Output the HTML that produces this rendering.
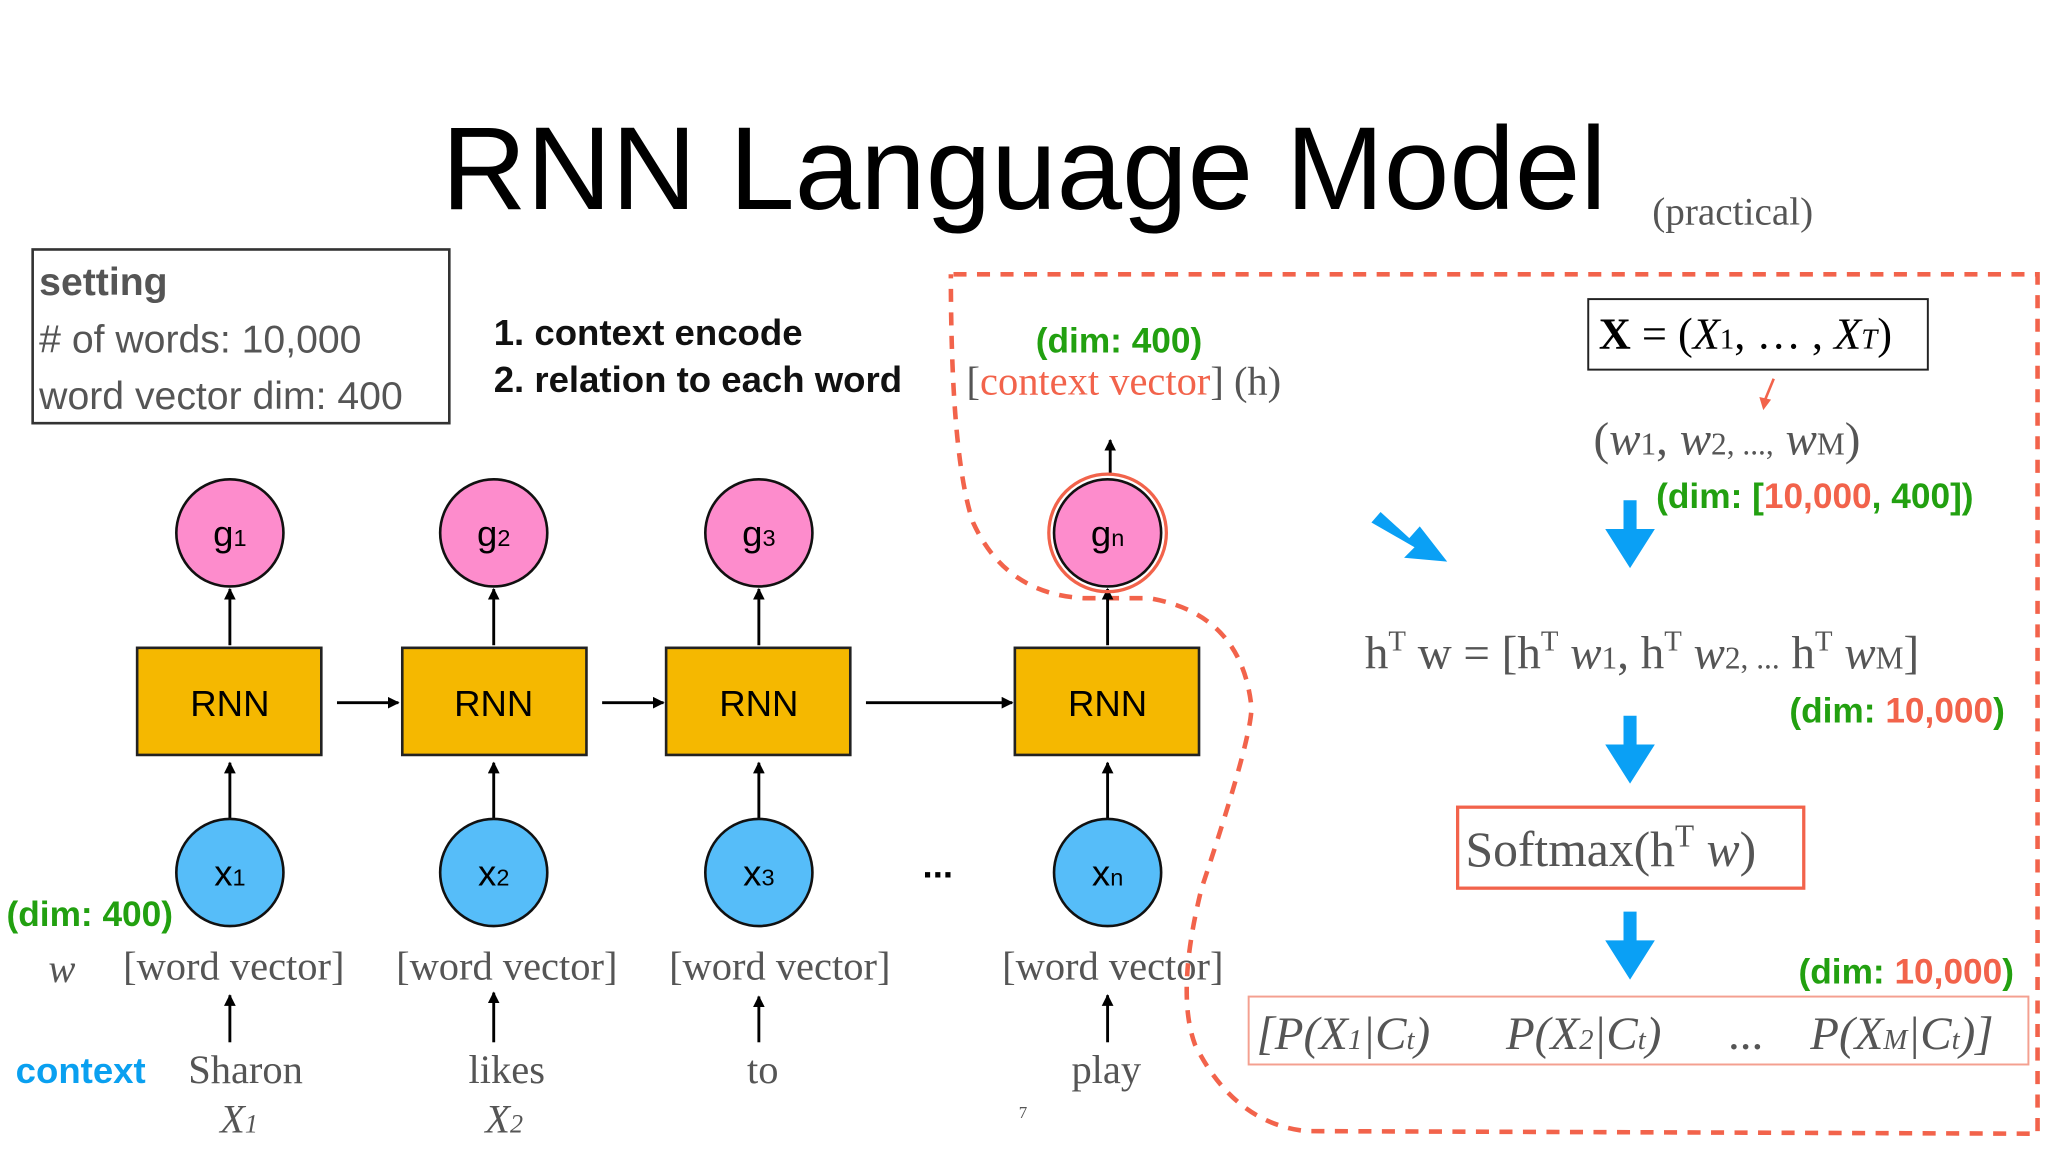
<!DOCTYPE html>
<html><head><meta charset="utf-8"><style>
html,body{margin:0;padding:0;background:#fff;}
svg{display:block;}
.s{font-family:"Liberation Serif",serif;fill:#555;}
.a{font-family:"Liberation Sans",sans-serif;}
.g{fill:#22a010;font-weight:bold;font-family:"Liberation Sans",sans-serif;}
.r{fill:#f2634b;}
</style></head><body>
<svg width="2048" height="1152" viewBox="0 0 1568 882" xmlns="http://www.w3.org/2000/svg">
<defs>
<marker id="ah" viewBox="0 0 10 10" refX="9" refY="5" markerWidth="9" markerHeight="9" markerUnits="userSpaceOnUse" orient="auto"><path d="M0,0L10,5L0,10z" fill="#000"/></marker>
</defs>
<text x="784" y="160" text-anchor="middle" class="a" font-size="90" textLength="892" lengthAdjust="spacingAndGlyphs" fill="#000">RNN Language Model</text>
<text x="1265" y="172" class="s" font-size="30">(practical)</text>

<rect x="25" y="191" width="319" height="133" fill="none" stroke="#333" stroke-width="2"/>
<text x="30" y="226" class="a" font-size="30" font-weight="bold" fill="#555">setting</text>
<text x="30" y="270" class="a" font-size="30" fill="#555"># of words: 10,000</text>
<text x="30" y="313" class="a" font-size="30" fill="#555">word vector dim: 400</text>

<text x="378" y="264" class="a" font-size="28" font-weight="bold" fill="#111">1.  context encode</text>
<text x="378" y="300" class="a" font-size="28" font-weight="bold" fill="#111">2.  relation to each word</text>

<text x="793" y="270" class="g" font-size="27">(dim: 400)</text>
<text x="740" y="302" class="s" font-size="31">[<tspan class="r">context vector</tspan>] (h)</text>

<path d="M730,210 L1560,210 L1560,868 L1000,866 Q945,860 915,800 Q900,760 920,680 Q960,560 958,540 Q950,470 880,458 L830,458 Q770,455 745,400 Q728,350 728,210" fill="none" stroke="#f2634b" stroke-width="3.5" stroke-dasharray="10,8"/>

<g stroke="#000" stroke-width="2.2" fill="none" marker-end="url(#ah)">
<line x1="258" y1="538" x2="305" y2="538"/>
<line x1="461" y1="538" x2="508" y2="538"/>
<line x1="663" y1="538" x2="775" y2="538"/>
<line x1="176" y1="494" x2="176" y2="451"/>
<line x1="378" y1="494" x2="378" y2="451"/>
<line x1="581" y1="494" x2="581" y2="451"/>
<line x1="848" y1="494" x2="848" y2="451"/>
<line x1="176" y1="627" x2="176" y2="584"/>
<line x1="378" y1="627" x2="378" y2="584"/>
<line x1="581" y1="627" x2="581" y2="584"/>
<line x1="848" y1="627" x2="848" y2="584"/>
<line x1="850" y1="364" x2="850" y2="337"/>
<line x1="176" y1="798" x2="176" y2="762"/>
<line x1="378" y1="798" x2="378" y2="760"/>
<line x1="581" y1="798" x2="581" y2="763"/>
<line x1="848" y1="798" x2="848" y2="762"/>
</g>

<g stroke="#111" stroke-width="2" fill="#fd8ccc">
<circle cx="176" cy="408" r="41"/><circle cx="378" cy="408" r="41"/><circle cx="581" cy="408" r="41"/><circle cx="848" cy="408" r="41"/>
</g>
<circle cx="848" cy="408" r="45" fill="none" stroke="#f2634b" stroke-width="2.5"/>
<g class="a" font-size="28" text-anchor="middle" fill="#000">
<text x="176" y="418">g<tspan font-size="18">1</tspan></text>
<text x="378" y="418">g<tspan font-size="18">2</tspan></text>
<text x="581" y="418">g<tspan font-size="18">3</tspan></text>
<text x="848" y="418">g<tspan font-size="18">n</tspan></text>
</g>

<g stroke="#222" stroke-width="2" fill="#f5b800">
<rect x="105" y="496" width="141" height="82"/><rect x="308" y="496" width="141" height="82"/><rect x="510" y="496" width="141" height="82"/><rect x="777" y="496" width="141" height="82"/>
</g>
<g class="a" font-size="28" text-anchor="middle" fill="#000">
<text x="176" y="548">RNN</text><text x="378" y="548">RNN</text><text x="581" y="548">RNN</text><text x="848" y="548">RNN</text>
</g>

<g stroke="#111" stroke-width="2" fill="#56bdf9">
<circle cx="176" cy="668" r="41"/><circle cx="378" cy="668" r="41"/><circle cx="581" cy="668" r="41"/><circle cx="848" cy="668" r="41"/>
</g>
<g class="a" font-size="28" text-anchor="middle" fill="#000">
<text x="176" y="678">x<tspan font-size="18">1</tspan></text>
<text x="378" y="678">x<tspan font-size="18">2</tspan></text>
<text x="581" y="678">x<tspan font-size="18">3</tspan></text>
<text x="848" y="678">x<tspan font-size="18">n</tspan></text>
<text x="718" y="672" font-weight="bold">...</text>
</g>

<text x="5" y="709" class="g" font-size="27">(dim: 400)</text>
<text x="37" y="752" class="s" font-size="31" font-style="italic">w</text>
<g class="s" font-size="31" text-anchor="middle">
<text x="179" y="750">[word vector]</text><text x="388" y="750">[word vector]</text><text x="597" y="750">[word vector]</text><text x="852" y="750">[word vector]</text>
<text x="188" y="829">Sharon</text><text x="388" y="829">likes</text><text x="584" y="829">to</text><text x="847" y="829">play</text>
<text x="183" y="867" font-style="italic">X<tspan font-size="20">1</tspan></text>
<text x="386" y="867" font-style="italic">X<tspan font-size="20">2</tspan></text>
</g>
<text x="12" y="829" class="a" font-size="28" font-weight="bold" fill="#0aa0f0">context</text>
<text x="780" y="856" class="s" font-size="13" fill="#333">7</text>

<rect x="1216" y="229" width="260" height="54" fill="none" stroke="#222" stroke-width="1.5"/>
<text x="1224" y="267" font-family="Liberation Serif,serif" font-size="34" fill="#000"><tspan font-weight="bold">X</tspan> = (<tspan font-style="italic">X</tspan><tspan font-size="22">1</tspan>, … , <tspan font-style="italic">X</tspan><tspan font-size="22" font-style="italic">T</tspan>)</text>
<line x1="1358" y1="290" x2="1351" y2="307" stroke="#f2634b" stroke-width="2"/>
<path d="M1347,304 L1350,314 L1356,306z" fill="#f2634b"/>
<text x="1220" y="348" class="s" font-size="36">(<tspan font-style="italic">w</tspan><tspan font-size="24">1</tspan>, <tspan font-style="italic">w</tspan><tspan font-size="24">2, ...,</tspan> <tspan font-style="italic">w</tspan><tspan font-size="24">M</tspan>)</text>
<text x="1268" y="389" class="g" font-size="27">(dim: [<tspan class="r">10,000</tspan>, 400])</text>

<g fill="#0aa0f5">
<path d="M1243,383 h10 v22 h14 l-19,30 l-19,-30 h14z"/>
<path d="M1243,548 h10 v22 h14 l-19,30 l-19,-30 h14z"/>
<path d="M1243,698 h10 v22 h14 l-19,30 l-19,-30 h14z"/>
<path d="M1050,400 l7,-8 l22,20 l8,-9 l21,27 l-33,-3 l8,-8z"/>
</g>

<text x="1045" y="512" class="s" font-size="36">h<tspan font-size="22" dy="-14">T</tspan><tspan dy="14"> w = [h</tspan><tspan font-size="22" dy="-14">T</tspan><tspan dy="14" font-style="italic"> w</tspan><tspan font-size="24">1</tspan>, h<tspan font-size="22" dy="-14">T</tspan><tspan dy="14" font-style="italic"> w</tspan><tspan font-size="24">2, ...</tspan> h<tspan font-size="22" dy="-14">T</tspan><tspan dy="14" font-style="italic"> w</tspan><tspan font-size="24">M</tspan>]</text>
<text x="1535" y="553" class="g" font-size="27" text-anchor="end">(dim: <tspan class="r">10,000</tspan>)</text>

<rect x="1116" y="618" width="265" height="62" fill="none" stroke="#f2634b" stroke-width="2.5"/>
<text x="1122" y="663" class="s" font-size="38">Softmax(h<tspan font-size="24" dy="-15">T</tspan><tspan dy="15" font-style="italic"> w</tspan>)</text>
<text x="1542" y="753" class="g" font-size="27" text-anchor="end">(dim: <tspan class="r">10,000</tspan>)</text>

<rect x="956" y="763" width="597" height="52" fill="none" stroke="#f4a090" stroke-width="1.5"/>
<text x="962" y="803" class="s" font-size="36" font-style="italic">[P(X<tspan font-size="22">1</tspan>|C<tspan font-size="22">t</tspan>)<tspan x="1153">P(X</tspan><tspan font-size="22">2</tspan>|C<tspan font-size="22">t</tspan>)<tspan x="1323" font-style="normal">...</tspan><tspan x="1386">P(X</tspan><tspan font-size="22">M</tspan>|C<tspan font-size="22">t</tspan>)]</text>
</svg>
</body></html>
